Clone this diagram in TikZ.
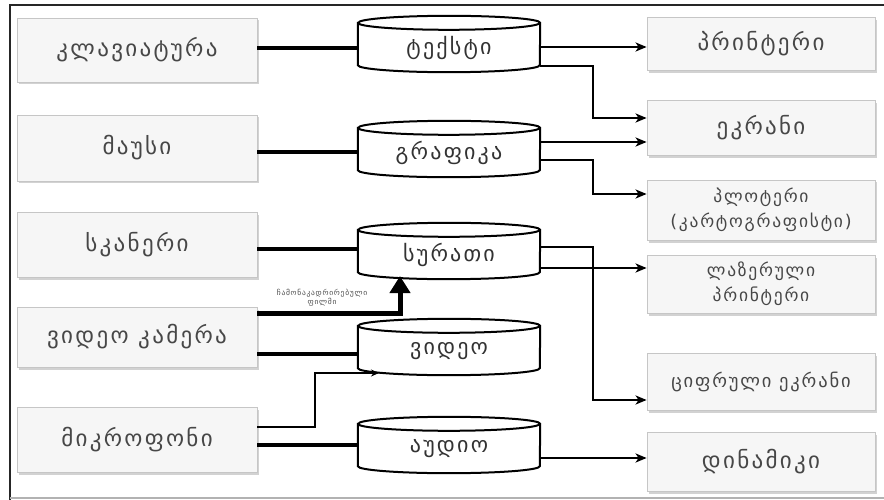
\documentclass[tikz,border=0pt]{standalone}
\usepackage{fontspec}
\setmainfont{DejaVu Sans}[LetterSpace=10]
\usetikzlibrary{arrows.meta,shadows,calc}

\begin{document}
\begin{tikzpicture}[x=1pt,y=-1pt,
  device/.style={draw=gray!45, line width=0.8pt, fill=gray!7, text=black!72,
    font=\fontsize{23}{27}\selectfont, align=center, inner sep=0pt,
    drop shadow={shadow xshift=2pt, shadow yshift=-2.5pt, opacity=0.35, fill=gray}},
  source/.style={device, minimum width=240pt},
  sink/.style={device, minimum width=228pt},
  twoline/.style={font=\fontsize{17.5}{25}\selectfont},
  store/.style={minimum width=182pt, minimum height=56pt, inner sep=0pt,
    text=black!80, font=\fontsize{22}{27}\selectfont},
  cylline/.style={draw=black, line width=2pt, fill=white},
  feed/.style={draw=black, line width=3.5pt},
  deliver/.style={draw=black, line width=2.4pt, -{Stealth[length=11pt,width=9pt,inset=3pt]}},
  frame/.style={draw=black!85, line width=2.5pt}]

\clip (0,0) rectangle (884,500);
\fill[white] (0,0) rectangle (884,500);

% outer frame
\draw[frame] (890,5) -- (10,5) -- (10,506);
\draw[draw=gray!60, line width=1.2pt] (10,498) -- (890,498);

% input devices
\node[source, minimum height=64pt] (kb)  at (137,50)  {კლავიატურა};
\node[source, minimum height=66pt] (ms)  at (137,148) {მაუსი};
\node[source, minimum height=65pt] (sc)  at (137,245) {სკანერი};
\node[source, minimum height=60pt] (cam) at (137,337) {ვიდეო კამერა};
\node[source, minimum height=65pt] (mic) at (137,440) {მიკროფონი};

% data stores (cylinder outlines are drawn round these nodes)
\node[store] (txt) at (449,44)  {};
\node[store] (grf) at (449,149) {};
\node[store] (pic) at (449,251) {};
\node[store] (vid) at (449,347) {};
\node[store] (aud) at (449,445) {};

\foreach \n/\t in {txt/ტექსტი, grf/გრაფიკა, pic/სურათი, vid/ვიდეო, aud/აუდიო}{
  \path[cylline] ($(\n.north west)+(0,7)$) -- ($(\n.south west)+(0,-7)$)
    arc[start angle=180, end angle=360, x radius=91pt, y radius=7pt]
    -- ($(\n.north east)+(0,7)$)
    arc[start angle=0, end angle=180, x radius=91pt, y radius=7pt] -- cycle;
  \draw[line width=2pt] ($(\n.north west)+(0,7)$)
    arc[start angle=180, end angle=360, x radius=91pt, y radius=7pt];
  \node[store] at ($(\n.center)+(0,4)$) {\t};
}

% output devices
\node[sink, minimum height=53pt] (prn) at (761,44)  {პრინტერი};
\node[sink, minimum height=55pt] (scr) at (761,128) {ეკრანი};
\node[sink, twoline, minimum height=60pt] (plt) at (761,210) {პლოტერი\\(კარტოგრაფისტი)};
\node[sink, twoline, minimum height=58pt] (lsr) at (761,284) {ლაზერული\\პრინტერი};
\node[sink, minimum height=57pt, font=\fontsize{18.5}{22}\selectfont] (dsc) at (761,382) {ციფრული ეკრანი};
\node[sink, minimum height=59pt] (spk) at (761,462) {დინამიკი};

% inputs to stores
\draw[feed] (kb.east |- 0,48)  -- (txt.west |- 0,48);
\draw[feed] (ms.east |- 0,152) -- (grf.west |- 0,152);
\draw[feed] (sc.east |- 0,249) -- (pic.west |- 0,249);
\draw[feed] (cam.east |- 0,354) -- (vid.west |- 0,354);
\draw[feed] (mic.east |- 0,445) -- (aud.west |- 0,445);
\draw[draw=black, line width=5pt, -{Triangle[length=17pt,width=20pt]}]
  (cam.east |- 0,313) -- (400,313) -- (400,276);
\node[font=\fontsize{7.5}{9}\selectfont, text=black!70, align=center] (lbl) at (322,298)
  {ჩამონაკადრირებული\\ფილმი};
\draw[line width=2.4pt, -{Stealth[length=8pt,width=7pt]}]
  (mic.east |- 0,427) -- (315,427) -- (315,373) -- (379,373);

% stores to outputs
\draw[deliver] (txt.east |- 0,47)  -- (prn.west |- 0,47);
\draw[deliver] (txt.east |- 0,66)  -- (593,66) -- (593,118) -- (scr.west |- 0,118);
\draw[deliver] (grf.east |- 0,142) -- (scr.west |- 0,142);
\draw[deliver] (grf.east |- 0,160) -- (593,160) -- (593,194) -- (plt.west |- 0,194);
\draw[deliver] (pic.east |- 0,268) -- (lsr.west |- 0,268);
\draw[deliver] (pic.east |- 0,247) -- (593,247) -- (593,400) -- (dsc.west |- 0,400);
\draw[deliver] (aud.east |- 0,458) -- (spk.west |- 0,458);

\end{tikzpicture}
\end{document}
